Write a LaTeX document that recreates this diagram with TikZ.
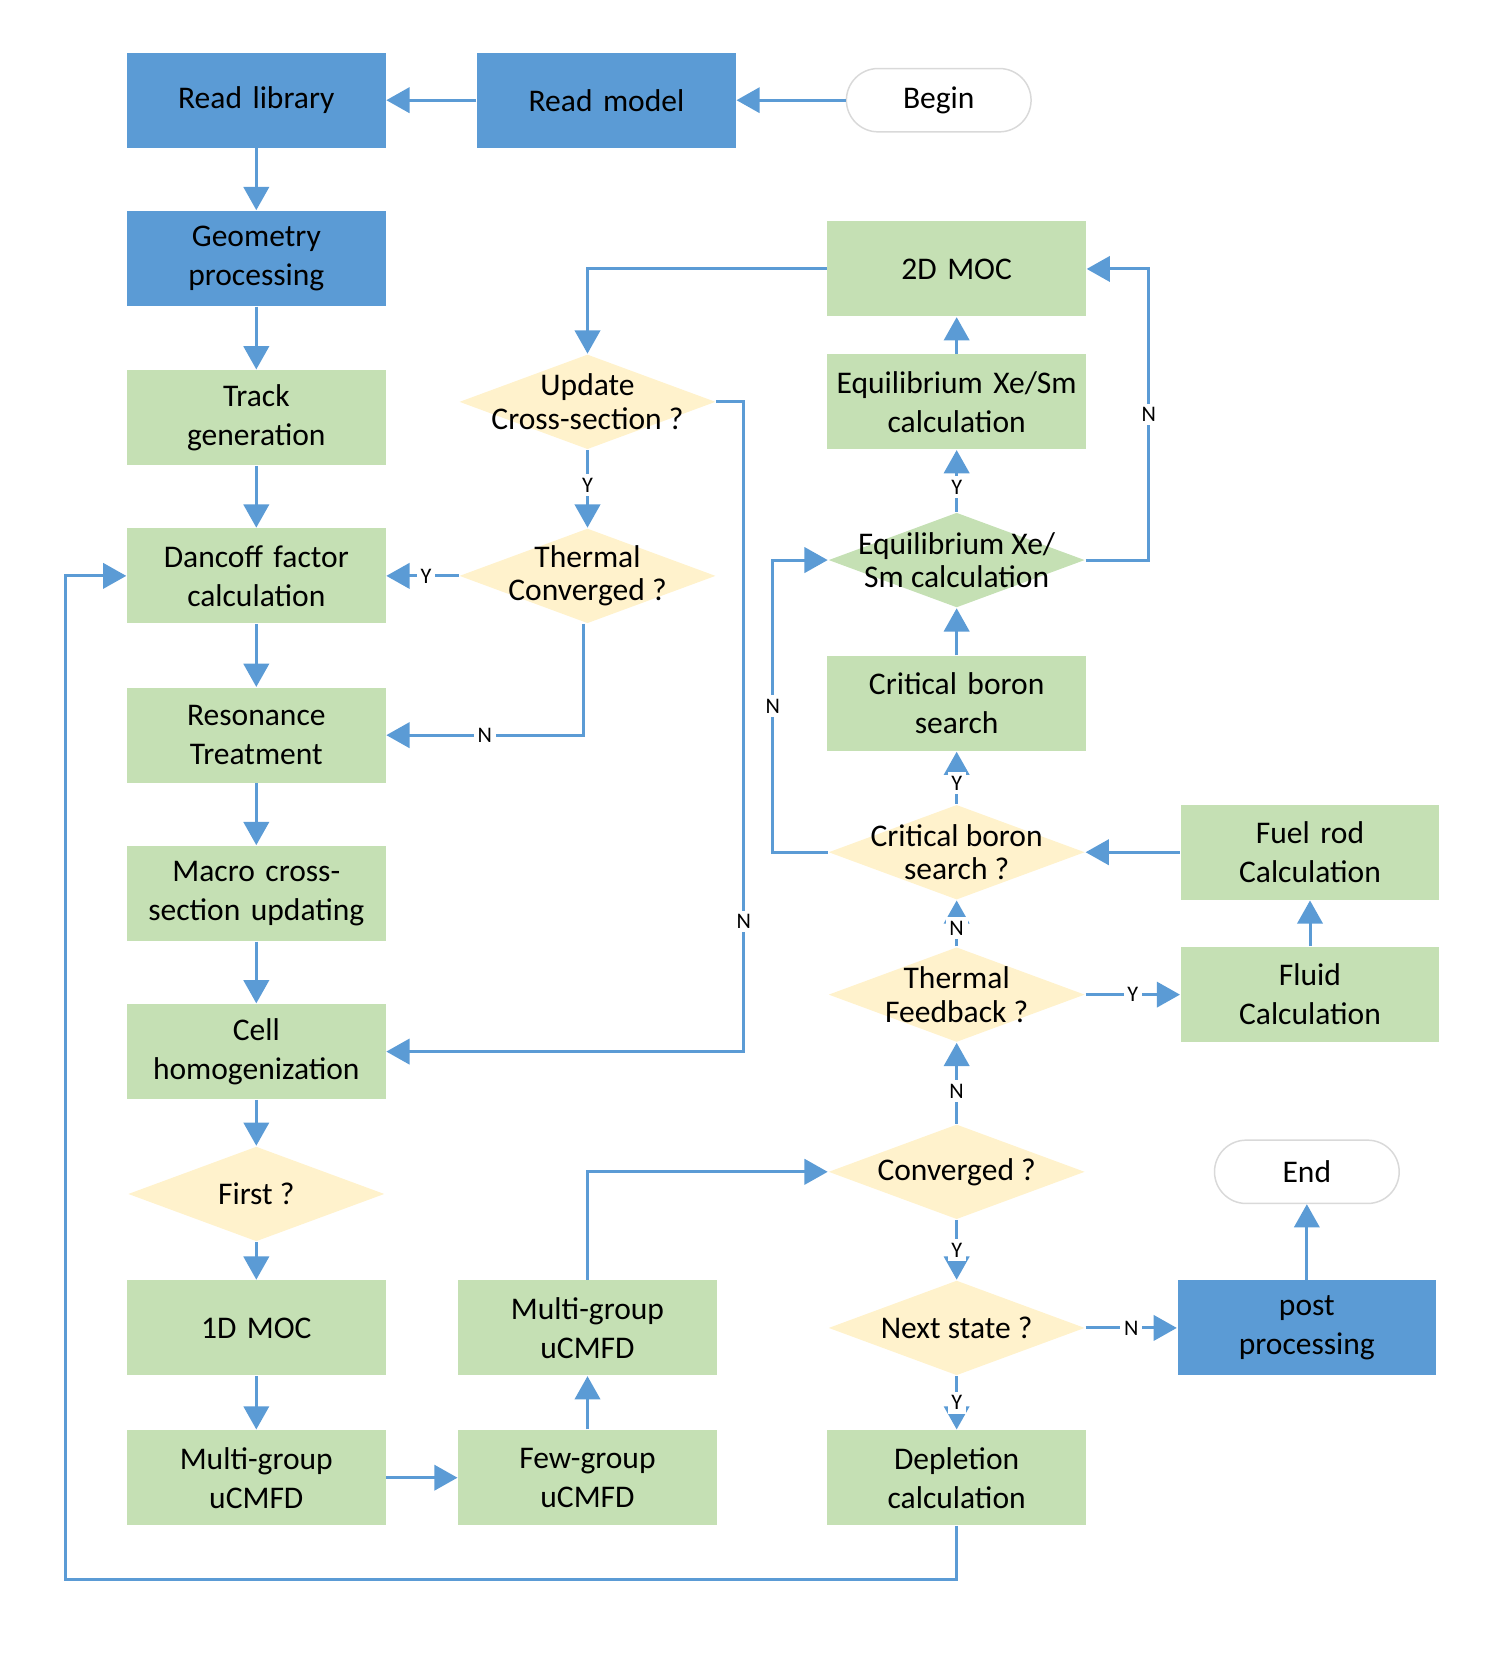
\documentclass[tikz,border=0pt]{standalone}
\usepackage{fontspec}
\setmainfont{Carlito}
\usetikzlibrary{shapes.geometric,arrows.meta,positioning}
\definecolor{bblue}{HTML}{5B9BD5}
\definecolor{bgreen}{HTML}{C5E0B4}
\definecolor{byellow}{HTML}{FFF2CC}
\tikzstyle{line} = [draw=bblue, -{Triangle[length=2.2mm,width=2.4mm]}, line width=0.8pt]
\tikzstyle{block} = [rectangle, fill=bgreen, text width=2.4cm, align=center,
  minimum width=2.45cm, minimum height=0.9cm, inner sep=0pt, font=\fontsize{8.5}{10.5}\selectfont]
\tikzstyle{bblock} = [block, fill=bblue]
\tikzstyle{decide} = [diamond, fill=byellow, minimum width=2.43cm,
  minimum height=0.9cm, inner sep=0pt]
\tikzstyle{dtext} = [align=center, inner sep=0pt, font=\fontsize{8.5}{9}\selectfont]
\tikzstyle{term} = [rectangle, rounded corners=0.3cm, draw=black!15, minimum width=1.75cm,
  minimum height=0.6cm, font=\fontsize{8.5}{10.5}\selectfont]
\tikzstyle{yn} = [fill=white, inner sep=1pt, font=\fontsize{6}{7}\selectfont]

\begin{document}
\begin{tikzpicture}[x=0.01cm, y=-0.01cm]
      \useasboundingbox (0,0) rectangle (1420,1571);

      %
      % Left column
      %
      \node [bblock] (lib) at (243,95) {Read library};
      \node [bblock] (model) at (575,95) {Read model};
      \node [term] (begin) at (890,95) {Begin};
      \node [bblock] (geom) at (243,245) {Geometry\\processing};
      \node [block] (track) at (243,396) {Track\\generation};
      \node [block] (dancoff) at (243,546) {Dancoff factor\\calculation};
      \node [block] (reson) at (243,697) {Resonance\\Treatment};
      \node [block] (macro) at (243,847) {Macro cross-\\section updating};
      \node [block] (cell) at (243,997) {Cell\\homogenization};
      \node [decide, label={[dtext]center:First ?}] (first) at (243,1132) {};
      \node [block] (moc1d) at (243,1259) {1D MOC};
      \node [block] (mgA) at (243,1401) {Multi-group\\uCMFD};

      %
      % Middle column
      %
      \node [decide, label={[dtext]center:{Update\\Cross-section ?}}] (update) at (557,381) {};
      \node [decide, label={[dtext]center:{Thermal\\Converged ?}}] (thconv) at (557,546) {};
      \node [block] (fg) at (557,1401) {Few-group\\uCMFD};
      \node [block] (mgB) at (557,1259) {Multi-group\\uCMFD};

      %
      % Right column
      %
      \node [block] (moc2d) at (907,255) {2D MOC};
      \node [block] (eqbox) at (907,381) {Equilibrium Xe/Sm\\calculation};
      \node [decide, fill=bgreen, label={[dtext]center:{Equilibrium Xe/\\Sm calculation}}] (eqdec) at (907,531) {};
      \node [block] (cbbox) at (907,667) {Critical boron\\search};
      \node [decide, label={[dtext]center:{Critical boron\\search ?}}] (cbdec) at (907,808) {};
      \node [decide, label={[dtext]center:{Thermal\\Feedback ?}}] (thfb) at (907,943) {};
      \node [decide, label={[dtext]center:Converged ?}] (conv) at (907,1111) {};
      \node [decide, label={[dtext]center:Next state ?}] (next) at (907,1259) {};
      \node [block] (depl) at (907,1401) {Depletion\\calculation};
      \node [block] (fuel) at (1242,808) {Fuel rod\\Calculation};
      \node [block] (fluid) at (1242,943) {Fluid\\Calculation};
      \node [term] (end) at (1239,1111) {End};
      \node [bblock] (post) at (1239,1259) {post\\processing};

      \path [line] (begin) -- (model);
      \path [line] (model) -- (lib);
      \path [line] (lib) -- (geom);
      \path [line] (geom) -- (track);
      \path [line] (track) -- (dancoff);
      \path [line] (dancoff) -- (reson);
      \path [line] (reson) -- (macro);
      \path [line] (macro) -- (cell);
      \path [line] (cell) -- (first);
      \path [line] (first) -- (moc1d);
      \path [line] (moc1d) -- (mgA);
      \path [line] (mgA) -- (fg);
      \path [line] (fg) -- (mgB);
      \path [line] (mgB) |- (conv);
      \path [line] (moc2d) -| (update);
      \path [line] (update) -- node [yn, pos=0.45] {Y} (thconv);
      \path [line] (update.east) -- ++(26,0) |- node [yn, pos=0.4] {N} (cell);
      \path [line] (thconv) -- node [yn, pos=0.45] {Y} (dancoff);
      \path [line] (thconv.south) ++(-4,0) |- node [yn, pos=0.75] {N} (reson);
      \path [line] (eqbox) -- (moc2d);
      \path [line] (eqdec) -- node [yn, pos=0.4] {Y} (eqbox);
      \path [line] (eqdec.east) -- ++(60,0) |- node [yn, pos=0.25] {N} (moc2d);
      \path [line] (cbbox) -- (eqdec);
      \path [line] (cbdec) -- node [yn, pos=0.4] {Y} (cbbox);
      \path [line] (cbdec.west) -- ++(-52,0) |- node [yn, pos=0.25] {N} (eqdec);
      \path [line] (fuel) -- (cbdec);
      \path [line] (fluid) -- (fuel);
      \path [line] (thfb) -- node [yn, pos=0.5] {Y} (fluid);
      \path [line] (thfb) -- node [yn, pos=0.4] {N} (cbdec);
      \path [line] (conv) -- node [yn, pos=0.4] {N} (thfb);
      \path [line] (conv) -- node [yn, pos=0.5] {Y} (next);
      \path [line] (next) -- node [yn, pos=0.5] {N} (post);
      \path [line] (next) -- node [yn, pos=0.5] {Y} (depl);
      \path [line] (post) -- (end);
      \path [line] (depl.south) -- ++(0,51) -| (62,546) -- (dancoff);

    \end{tikzpicture}
\end{document}
